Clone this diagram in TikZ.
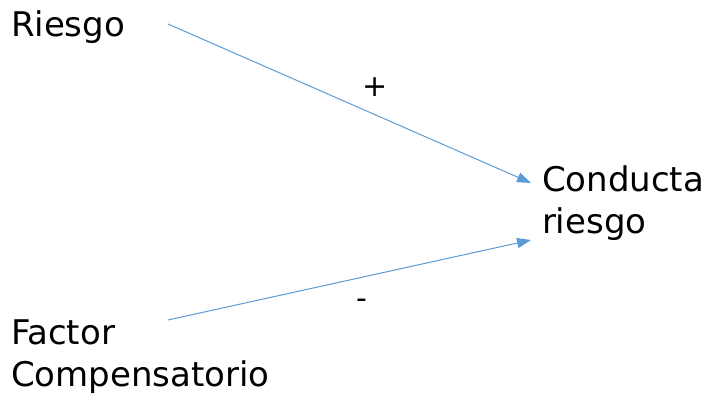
\documentclass[tikz,border=0pt]{standalone}
\usepackage{fontspec}
\setmainfont{DejaVu Sans}
\usetikzlibrary{arrows.meta}
\definecolor{arrowblue}{RGB}{91,155,213}
\tikzset{
  lbl/.style={anchor=base west, inner sep=0pt, outer sep=0pt, font=\fontsize{34}{42}\selectfont, align=left},
  sign/.style={anchor=base, inner sep=0pt, font=\fontsize{30}{36}\selectfont},
  conn/.style={draw=arrowblue, line width=1pt, -{Triangle[length=14pt,width=10pt]}}
}
\begin{document}
\begin{tikzpicture}[x=1pt,y=-1pt]
\useasboundingbox (0,0) rectangle (711,401);
\node[lbl] (riesgo) at (11,37) {Riesgo};
\node[lbl] (conducta) at (542,233) {Conducta\\riesgo};
\node[lbl] (factor) at (11,386) {Factor\\Compensatorio};
\coordinate (s1) at (168,24);
\coordinate (e1) at (531,183);
\coordinate (s2) at (168,320);
\coordinate (e2) at (531,240);
\draw[conn] (s1) -- (e1);
\draw[conn] (s2) -- (e2);
\node[sign] (plus) at (375,97) {+};
\node[sign] (minus) at (362,308) {-};
\end{tikzpicture}
\end{document}
